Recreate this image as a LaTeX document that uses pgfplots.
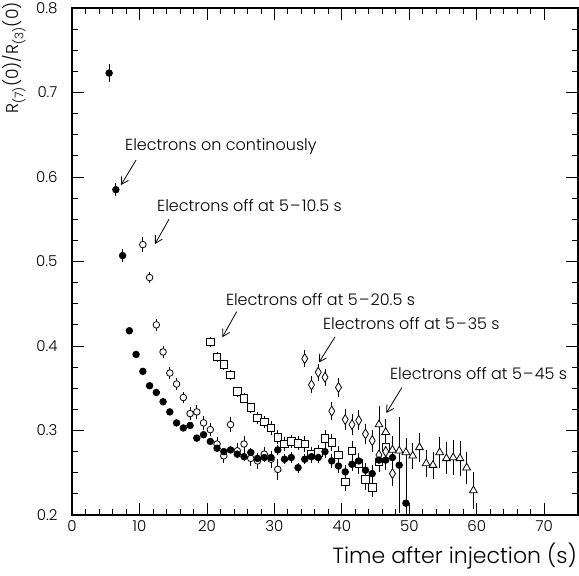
\documentclass[border=0pt]{standalone}
\usepackage{pgfplots}
\pgfplotsset{compat=1.18}
\usepackage{pgfplotstable}
\usetikzlibrary{arrows.meta}
\usepackage{fontspec}
\setmainfont{Poppins Light}

\pgfplotstableread{
x y e
5.5 0.723 0.011
6.5 0.585 0.008
7.5 0.507 0.008
8.5 0.418 0.004
9.5 0.390 0.004
10.5 0.370 0.004
11.5 0.353 0.004
12.5 0.345 0.004
13.5 0.334 0.004
14.5 0.322 0.004
15.5 0.309 0.004
16.5 0.303 0.004
17.5 0.306 0.004
18.5 0.291 0.004
19.5 0.295 0.004
20.5 0.287 0.004
21.5 0.279 0.004
22.5 0.275 0.004
23.5 0.277 0.004
24.5 0.272 0.005
25.5 0.269 0.005
26.5 0.274 0.005
27.5 0.267 0.005
28.5 0.268 0.005
29.5 0.268 0.005
30.5 0.277 0.006
31.5 0.266 0.006
32.5 0.268 0.006
33.5 0.256 0.006
34.5 0.266 0.006
35.5 0.269 0.007
36.5 0.268 0.007
37.5 0.275 0.007
38.5 0.264 0.008
39.5 0.258 0.008
40.5 0.251 0.008
41.5 0.260 0.008
42.5 0.264 0.009
43.5 0.253 0.009
44.5 0.249 0.010
45.5 0.265 0.012
46.5 0.265 0.012
47.5 0.268 0.015
48.5 0.259 0.057
49.5 0.214 0.075
}\filled

\pgfplotstableread{
x y e
10.5 0.520 0.009
11.5 0.481 0.007
12.5 0.425 0.007
13.5 0.393 0.007
14.5 0.368 0.007
15.5 0.355 0.007
16.5 0.339 0.007
17.5 0.320 0.008
18.5 0.322 0.008
19.5 0.309 0.008
20.5 0.301 0.008
21.5 0.284 0.008
22.5 0.270 0.008
23.5 0.307 0.009
24.5 0.276 0.009
25.5 0.284 0.009
26.5 0.267 0.009
27.5 0.264 0.009
28.5 0.272 0.009
29.5 0.266 0.010
30.5 0.254 0.012
46.5 0.279 0.010
}\opencirc

\pgfplotstableread{
x y e
20.5 0.405 0.006
21.5 0.387 0.006
22.5 0.378 0.006
23.5 0.366 0.006
24.5 0.346 0.006
25.5 0.338 0.006
26.5 0.327 0.006
27.5 0.315 0.007
28.5 0.310 0.007
29.5 0.303 0.008
30.5 0.292 0.008
31.5 0.284 0.008
32.5 0.287 0.008
33.5 0.285 0.008
34.5 0.284 0.009
35.5 0.272 0.009
36.5 0.274 0.009
37.5 0.291 0.010
38.5 0.286 0.010
39.5 0.271 0.011
40.5 0.239 0.011
41.5 0.276 0.011
42.5 0.261 0.012
43.5 0.242 0.012
44.5 0.233 0.012
45.5 0.263 0.012
46.5 0.280 0.013
}\squares

\pgfplotstableread{
x y e
34.5 0.385 0.010
35.5 0.354 0.010
36.5 0.369 0.010
37.5 0.363 0.010
38.5 0.323 0.011
39.5 0.351 0.011
40.5 0.313 0.012
41.5 0.307 0.012
42.5 0.312 0.012
43.5 0.296 0.012
44.5 0.288 0.013
45.5 0.271 0.014
46.5 0.275 0.014
47.5 0.249 0.015
}\diamonds

\pgfplotstableread{
x y e
45.5 0.307 0.022
46.5 0.298 0.016
47.5 0.277 0.016
48.5 0.276 0.017
49.5 0.274 0.017
50.5 0.270 0.015
51.5 0.280 0.017
52.5 0.261 0.016
53.5 0.259 0.016
54.5 0.274 0.018
55.5 0.267 0.019
56.5 0.268 0.021
57.5 0.267 0.021
58.5 0.256 0.019
59.5 0.229 0.022
}\triangles

\newcommand{\dsh}{\hspace{0.08em}\textendash\hspace{0.08em}}

\begin{document}
\begin{tikzpicture}
\path[use as bounding box] (0,0) rectangle (579pt,576pt);
\begin{axis}[
  at={(72pt,61pt)}, anchor=south west,
  width=506pt, height=507pt, scale only axis,
  xmin=0, xmax=75, ymin=0.2, ymax=0.8,
  xtick={0,10,20,30,40,50,60,70}, minor x tick num=4,
  ytick={0.2,0.3,0.4,0.5,0.6,0.7,0.8}, minor y tick num=3,
  tick align=inside,
  major tick length=12pt, minor tick length=6pt,
  every tick/.style={black, line width=0.8pt},
  axis line style={line width=1.2pt},
  /pgf/number format/assume math mode=true,
  yticklabel style={/pgf/number format/fixed, /pgf/number format/precision=1, /pgf/number format/fixed zerofill, xshift=-11pt},
  ticklabel style={font=\fontsize{15}{15}\selectfont},
  xticklabel style={yshift=-2pt},
  every axis plot/.append style={only marks, black, line width=0.8pt},
  error bars/error bar style={line width=0.8pt, black},
]
\addplot[mark=*, mark size=3.3pt, mark options={fill=white}, error bars/.cd, y dir=both, y explicit, error mark=none] table[x=x,y=y,y error=e] {\opencirc};
\addplot[mark=square*, mark size=3.8pt, mark options={fill=white}, error bars/.cd, y dir=both, y explicit, error mark=none] table[x=x,y=y,y error=e] {\squares};
\addplot[mark=diamond*, mark size=5pt, mark options={fill=white, xscale=0.8}, error bars/.cd, y dir=both, y explicit, error mark=none] table[x=x,y=y,y error=e] {\diamonds};
\addplot[mark=triangle*, mark size=4.5pt, mark options={fill=white}, error bars/.cd, y dir=both, y explicit, error mark=none] table[x=x,y=y,y error=e] {\triangles};
\addplot[mark=*, mark size=3.3pt, mark options={fill=black}, error bars/.cd, y dir=both, y explicit, error mark=none] table[x=x,y=y,y error=e] {\filled};

\tikzset{ann/.style={anchor=west, inner sep=0pt, font=\fontsize{16}{16}\selectfont},
         arr/.style={line width=0.8pt, -{Straight Barb[length=7pt,width=8pt]}}}
\node[ann] at (axis cs:7.86,0.6355) {Electrons on continously};
\draw[arr] (axis cs:9.49,0.620) -- (axis cs:7.26,0.5905);
\node[ann] at (axis cs:12.6,0.5657) {Electrons off at 5\dsh10.5 s};
\draw[arr] (axis cs:14.38,0.550) -- (axis cs:12.30,0.5207);
\node[ann] at (axis cs:22.8,0.4556) {Electrons off at 5\dsh20.5 s};
\draw[arr] (axis cs:24.41,0.4406) -- (axis cs:22.28,0.4103);
\node[ann] at (axis cs:37.2,0.4272) {Electrons off at 5\dsh35 s};
\draw[arr] (axis cs:38.98,0.4107) -- (axis cs:36.6,0.3805);
\node[ann] at (axis cs:47.13,0.3675) {Electrons off at 5\dsh45 s};
\draw[arr] (axis cs:48.91,0.3509) -- (axis cs:46.58,0.3207);
\end{axis}
\node[rotate=90, font=\fontsize{17}{17}\selectfont] at (14pt,518pt) {R\textsubscript{(7)}(0)/R\textsubscript{(3)}(0)};
\node[anchor=east, inner sep=0pt, font=\fontsize{22}{22}\selectfont] at (577pt,19.5pt) {Time after injection (s)};
\end{tikzpicture}
\end{document}
